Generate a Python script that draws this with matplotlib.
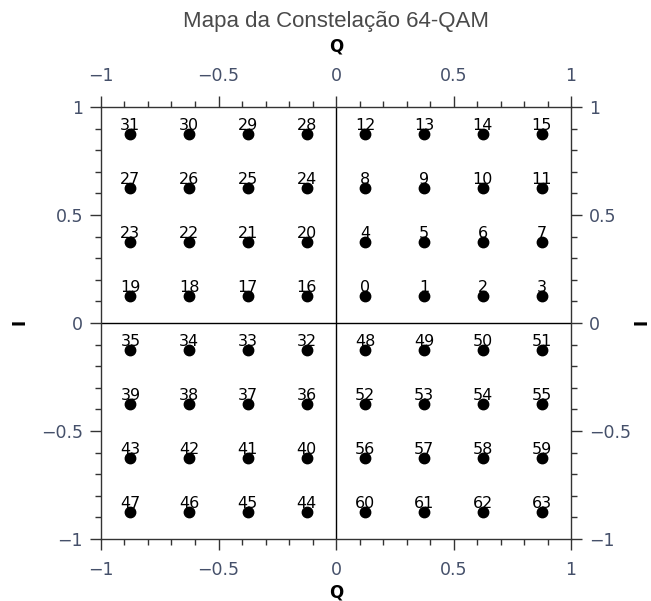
import matplotlib
matplotlib.use("Agg")
import matplotlib.pyplot as plt
from matplotlib.ticker import MultipleLocator

plt.rcParams["font.family"] = ["DejaVu Sans"]

# 64-QAM constellation: amplitude levels and symbol index per grid cell
levels = [-0.875, -0.625, -0.375, -0.125, 0.125, 0.375, 0.625, 0.875]
# rows from top (I = 0.875) to bottom (I = -0.875), columns from Q = -0.875 to 0.875
symbols = [
    [31, 30, 29, 28, 12, 13, 14, 15],
    [27, 26, 25, 24, 8, 9, 10, 11],
    [23, 22, 21, 20, 4, 5, 6, 7],
    [19, 18, 17, 16, 0, 1, 2, 3],
    [35, 34, 33, 32, 48, 49, 50, 51],
    [39, 38, 37, 36, 52, 53, 54, 55],
    [43, 42, 41, 40, 56, 57, 58, 59],
    [47, 46, 45, 44, 60, 61, 62, 63],
]
row_levels = levels[::-1]

tick_color = "#45506a"

fig = plt.figure(figsize=(6.51, 6.01), dpi=100)
ax = fig.add_axes([101 / 651, 1 - 539 / 601, 470 / 651, 432 / 601])

# zero lines
ax.axhline(0, color="black", lw=1, zorder=1)
ax.axvline(0, color="black", lw=1, zorder=1)

for r, yv in enumerate(row_levels):
    for c, xv in enumerate(levels):
        ax.plot(xv, yv, "o", color="black", markersize=7.5, zorder=3)
        ax.annotate(str(symbols[r][c]), (xv, yv), xytext=(0, 3),
                    textcoords="offset points", ha="center", va="baseline",
                    fontsize=11.5, color="black", zorder=4)

ax.set_xlim(-1, 1)
ax.set_ylim(-1, 1)
ax.xaxis.set_major_locator(MultipleLocator(0.5))
ax.yaxis.set_major_locator(MultipleLocator(0.5))
ax.xaxis.set_minor_locator(MultipleLocator(0.1))
ax.yaxis.set_minor_locator(MultipleLocator(0.1))
fmt = lambda v, pos: "0" if abs(v) < 1e-9 else ("%g" % v).replace("-", "\u2212")
ax.xaxis.set_major_formatter(fmt)
ax.yaxis.set_major_formatter(fmt)

ax.tick_params(which="both", direction="out", top=True, right=True,
               labeltop=True, labelright=True, color="#333333",
               labelcolor=tick_color, labelsize=12.5)
ax.tick_params(which="major", length=8, width=1)
ax.tick_params(which="minor", length=4.5, width=1)
ax.tick_params(axis="x", which="major", pad=8)
ax.tick_params(axis="y", which="major", pad=5)
for s in ax.spines.values():
    s.set_color("#333333")
    s.set_linewidth(1)

# axis labels on all sides
fig.text(336 / 651, 1 - 47 / 601, "Q", ha="center", va="center",
         fontsize=12, fontweight="bold")
fig.text(336 / 651, 1 - 583 / 601, "Q", ha="center", va="top",
         fontsize=12, fontweight="bold")
fig.text(20 / 651, 1 - 322 / 601, "I", ha="center", va="center",
         fontsize=12, fontweight="bold", rotation=90)
fig.text(641 / 651, 1 - 322 / 601, "I", ha="center", va="center",
         fontsize=12, fontweight="bold", rotation=90)

fig.text(336 / 651, 1 - 22 / 601, "Mapa da Constelação 64-QAM",
         ha="center", va="center", fontsize=16, color="#4a4a4a",
         family="Liberation Sans")

fig.savefig("out.png", dpi=100)
